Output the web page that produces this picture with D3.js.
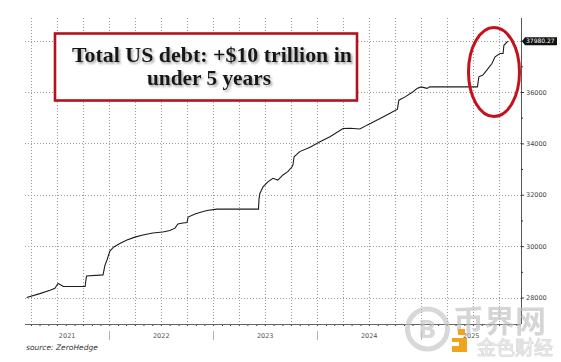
<!DOCTYPE html>
<html>
<head>
<meta charset="utf-8">
<script src="https://cdn.jsdelivr.net/npm/d3@7"></script>
<style>
  body { margin: 0; background: #fff; }
  svg { display: block; }
</style>
</head>
<body>
<div id="chart"></div>
<script>
// total public debt, $bn
const dates = [
  "2021-03-17", "2021-05-02", "2021-06-07", "2021-06-24", "2021-07-05", "2021-07-15", "2021-07-24",
  "2021-10-08", "2021-10-13", "2021-12-10", "2021-12-17", "2021-12-24", "2022-01-03", "2022-01-17",
  "2022-02-07", "2022-03-04", "2022-04-01", "2022-04-29", "2022-06-03", "2022-07-08", "2022-08-02",
  "2022-08-20", "2022-08-30", "2022-09-17", "2022-10-01", "2022-10-05", "2022-10-29", "2022-11-15",
  "2022-12-10", "2023-01-14", "2023-06-09", "2023-06-11", "2023-06-14", "2023-06-25", "2023-07-12",
  "2023-07-30", "2023-08-16", "2023-09-03", "2023-09-20", "2023-10-05", "2023-10-08", "2023-10-12",
  "2023-11-01", "2023-12-07", "2024-01-11", "2024-02-15", "2024-04-01", "2024-04-26", "2024-05-30",
  "2024-06-24", "2024-08-09", "2024-09-13", "2024-10-09", "2024-10-14", "2024-11-05", "2024-12-03",
  "2024-12-17", "2024-12-31", "2025-01-21", "2025-01-31", "2025-07-17", "2025-07-22", "2025-08-05",
  "2025-08-19", "2025-09-06", "2025-09-17", "2025-10-04", "2025-10-15", "2025-10-18", "2025-11-01"
];
const debt = [
  28000, 28150, 28280, 28360, 28545, 28490, 28430,
  28430, 28840, 28880, 29260, 29460, 29810, 29970,
  30100, 30240, 30350, 30430, 30510, 30550, 30610,
  30700, 30860, 30900, 30920, 31130, 31250, 31310,
  31385, 31440, 31440, 31860, 32050, 32310, 32500,
  32640, 32570, 32770, 32900, 33090, 33160, 33480,
  33680, 33850, 34060, 34260, 34580, 34590, 34560,
  34710, 34970, 35170, 35330, 35680, 35810, 36010,
  36140, 36200, 36140, 36200, 36200, 36590, 36660,
  36850, 37110, 37370, 37500, 37500, 37820, 37980.27
];
const yTicks = [28000, 30000, 32000, 34000, 36000, 38000];
const yLabels = ["28000", "30000", "32000", "34000", "36000", ""]; // 38000 sits under the value tag
const yMinor = [29000, 31000, 33000, 35000, 37000];
const years = [2021, 2022, 2023, 2024, 2025];
const lastLabel = "37980.27";
const titleLines = ["Total US debt: +$10 trillion in", "under 5 years"];
const sourceText = "source: ZeroHedge";

const W = 561, H = 362;
const plot = { left: 25, right: 521, top: 18, bottom: 324 };

const parse = d3.timeParse("%Y-%m-%d");
const data = dates.map((d, i) => ({ date: parse(d), value: debt[i] }));

const x = d3.scaleTime()
  .domain([parse("2021-03-11"), parse("2025-12-17")])
  .range([plot.left, plot.right]);
const y = d3.scaleLinear()
  .domain([28000, 36000])
  .range([297.5, 92]);

const svg = d3.select("#chart").append("svg")
  .attr("width", W)
  .attr("height", H);

const defs = svg.append("defs");
defs.append("filter").attr("id", "shadow")
  .attr("x", "-10%").attr("y", "-20%").attr("width", "120%").attr("height", "150%")
  .append("feDropShadow")
  .attr("dx", 1.6).attr("dy", 1.8).attr("stdDeviation", 1.2)
  .attr("flood-color", "#777").attr("flood-opacity", 0.7);

// grid
const grid = svg.append("g").attr("fill", "none").attr("stroke", "#9a9a9a")
  .attr("stroke-dasharray", "1,2");
grid.selectAll(".vg")
  .data(x.ticks(d3.timeMonth.every(3)))
  .join("line")
  .attr("x1", d => Math.round(x(d)) + 0.5).attr("x2", d => Math.round(x(d)) + 0.5)
  .attr("y1", plot.top).attr("y2", plot.bottom);
grid.selectAll(".hg")
  .data(yTicks)
  .join("line")
  .attr("x1", plot.left).attr("x2", plot.right)
  .attr("y1", d => Math.round(y(d)) + 0.5).attr("y2", d => Math.round(y(d)) + 0.5);

// debt line
const line = d3.line()
  .x(d => x(d.date))
  .y(d => y(d.value));
svg.append("path")
  .datum(data)
  .attr("fill", "none")
  .attr("stroke", "#1c1c1c")
  .attr("stroke-width", 1.1)
  .attr("d", line);

// x axis
const xAxis = svg.append("g")
  .attr("transform", `translate(0,${plot.bottom})`)
  .call(d3.axisBottom(x).ticks(d3.timeMonth.every(1)).tickSize(2).tickFormat(""));
xAxis.select(".domain").remove();
xAxis.selectAll(".tick line").attr("stroke", "#333");
svg.append("line")
  .attr("x1", plot.left).attr("x2", plot.right)
  .attr("y1", plot.bottom + 0.5).attr("y2", plot.bottom + 0.5)
  .attr("stroke", "#666");

const [d0, d1] = x.domain();
svg.append("g").selectAll("line")
  .data(years.slice(1))
  .join("line")
  .attr("x1", d => Math.round(x(new Date(d, 0, 1))) + 0.5)
  .attr("x2", d => Math.round(x(new Date(d, 0, 1))) + 0.5)
  .attr("y1", 331).attr("y2", 340)
  .attr("stroke", "#b5b5b5");
svg.append("g").selectAll("text")
  .data(years)
  .join("text")
  .attr("x", d => {
    const a = Math.max(+new Date(d, 0, 1), +d0);
    const b = Math.min(+new Date(d + 1, 0, 1), +d1);
    return (x(a) + x(b)) / 2;
  })
  .attr("y", 338)
  .attr("text-anchor", "middle")
  .attr("font-family", "DejaVu Sans, sans-serif")
  .attr("font-size", 6.5)
  .attr("fill", "#555")
  .text(d => d);

// y axis
svg.append("line")
  .attr("x1", plot.right + 0.5).attr("x2", plot.right + 0.5)
  .attr("y1", plot.top).attr("y2", plot.bottom)
  .attr("stroke", "#555");
const yAxis = svg.append("g")
  .attr("transform", `translate(${plot.right},0)`)
  .call(d3.axisRight(y).tickValues(yTicks).tickSize(3).tickPadding(2)
    .tickFormat((d, i) => yLabels[i]));
yAxis.select(".domain").remove();
yAxis.selectAll(".tick line").attr("stroke", "#333");
yAxis.selectAll("text")
  .attr("font-family", "DejaVu Sans, sans-serif")
  .attr("font-size", 6.5)
  .attr("fill", "#444");
const yMinorAxis = svg.append("g")
  .attr("transform", `translate(${plot.right},0)`)
  .call(d3.axisRight(y).tickValues(yMinor).tickSize(2).tickFormat(""));
yMinorAxis.select(".domain").remove();
yMinorAxis.selectAll(".tick line").attr("stroke", "#333");

// last value tag
const yl = y(debt[debt.length - 1]);
svg.append("path")
  .attr("d", `M${plot.right + 1},${yl} L${plot.right + 4},${yl - 4} L557,${yl - 4} L557,${yl + 4} L${plot.right + 4},${yl + 4} Z`)
  .attr("fill", "#111");
svg.append("text")
  .attr("x", plot.right + 5).attr("y", yl + 2.3)
  .attr("font-family", "DejaVu Sans, sans-serif")
  .attr("font-size", 6)
  .attr("fill", "#fff")
  .text(lastLabel);

// title box
svg.append("rect")
  .attr("x", 55).attr("y", 33.5).attr("width", 302).attr("height", 67)
  .attr("fill", "#fff")
  .attr("stroke", "#b3121d")
  .attr("stroke-width", 2.6);
const title = svg.append("g").attr("filter", "url(#shadow)");
title.append("text")
  .attr("x", 212).attr("y", 62)
  .attr("text-anchor", "middle")
  .attr("textLength", 280).attr("lengthAdjust", "spacingAndGlyphs")
  .attr("font-family", "Liberation Serif, serif")
  .attr("font-weight", "bold")
  .attr("font-size", 22)
  .attr("fill", "#151515")
  .text(titleLines[0]);
title.append("text")
  .attr("x", 209).attr("y", 85)
  .attr("text-anchor", "middle")
  .attr("textLength", 124).attr("lengthAdjust", "spacingAndGlyphs")
  .attr("font-family", "Liberation Serif, serif")
  .attr("font-weight", "bold")
  .attr("font-size", 22)
  .attr("fill", "#151515")
  .text(titleLines[1]);

// red ellipse around the latest run-up
svg.append("ellipse")
  .attr("cx", 494).attr("cy", 72).attr("rx", 25.5).attr("ry", 44.5)
  .attr("fill", "none")
  .attr("stroke", "#c4121c")
  .attr("stroke-width", 3);

// source
svg.append("text")
  .attr("x", 26).attr("y", 350)
  .attr("font-family", "DejaVu Sans, sans-serif")
  .attr("font-style", "italic")
  .attr("font-size", 7.5)
  .attr("fill", "#333")
  .text(sourceText);

// watermark
const wm = svg.append("g").attr("opacity", 0.65);
wm.append("circle")
  .attr("cx", 427.5).attr("cy", 329).attr("r", 20)
  .attr("fill", "none").attr("stroke", "#c4c4c4").attr("stroke-width", 5);
wm.append("text")
  .attr("x", 427.5).attr("y", 338)
  .attr("text-anchor", "middle")
  .attr("font-family", "DejaVu Sans, sans-serif")
  .attr("font-weight", "bold")
  .attr("font-size", 24)
  .attr("fill", "#c4c4c4")
  .text("B");
wm.append("text")
  .attr("x", 453).attr("y", 332)
  .attr("font-family", "Noto Sans CJK SC, sans-serif")
  .attr("font-weight", "bold")
  .attr("font-size", 31)
  .attr("fill", "#c0c0c0")
  .text("币界网");
wm.append("text")
  .attr("x", 477).attr("y", 355)
  .attr("font-family", "Noto Sans CJK SC, sans-serif")
  .attr("font-size", 19)
  .attr("fill", "none")
  .attr("stroke", "#cfcfcf")
  .attr("stroke-width", 1.2)
  .text("金色财经");
const orange = svg.append("g").attr("fill", "#eea51c");
orange.append("rect").attr("x", 458).attr("y", 329).attr("width", 7).attr("height", 6);
orange.append("path").attr("d", "M452,338 L467,338 L467,352 L452,352 L452,346 L459,346 L459,342 L452,342 Z");
</script>
</body>
</html>
